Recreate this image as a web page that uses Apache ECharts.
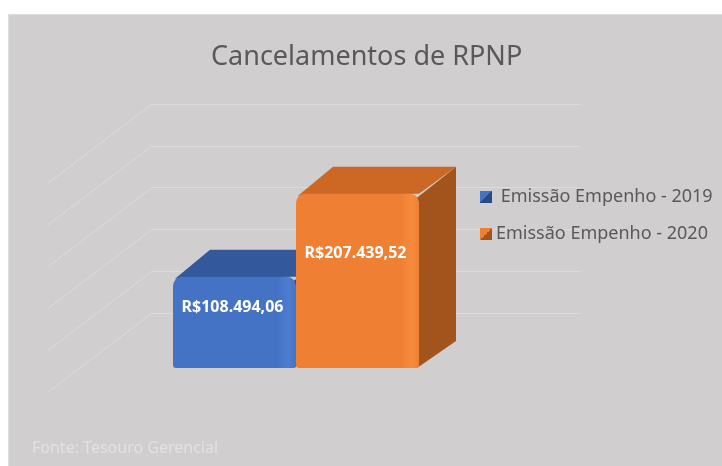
<!DOCTYPE html>
<html>
<head>
<meta charset="utf-8">
<script src="https://cdn.jsdelivr.net/npm/echarts@6/dist/echarts.min.js"></script>
<style>
    body { margin: 0; background: #fff; }
    #wrap { position: relative; width: 722px; height: 466px; background: #fff; }
    #panel {
        position: absolute; left: 8px; top: 14px; width: 714px; height: 452px;
        background: #d0cecf; border-left: 1px solid #dedede; border-top: 1px solid #dedede;
    }
    #chart { position: absolute; left: 0; top: 0; width: 722px; height: 466px; }
</style>
</head>
<body>
<div id="wrap">
    <div id="panel"></div>
    <div id="chart"></div>
</div>
<script>
// dados
const categories = ["Cancelamentos"];
const seriesNames = [" Emissão Empenho - 2019", "Emissão Empenho - 2020"];
const seriesValues = [108494.06, 207439.52];
const yTicks = [0, 50000, 100000, 150000, 200000, 250000];

// cores das faces (frente, topo, lateral)
const faceColors = [
    { front: "#4472c4", light: "#4e7dcf", top: "#33589b", side: "#284a85" },
    { front: "#ef7f32", light: "#f68c3e", top: "#cd6724", side: "#a3531c" },
];

const depth = [37, -27]; // profundidade das barras
const wallDepth = [-105, 80]; // linhas diagonais da parede

function brl(v) {
    const parts = v.toFixed(2).split(".");
    return "R$" + parts[0].replace(/\B(?=(\d{3})+(?!\d))/g, ".") + "," + parts[1];
}

function renderBar(idx) {
    return function (params, api) {
        const val = api.value(1);
        const base = api.coord([0, 0]);
        const top = api.coord([0, val]);
        const catW = api.size([1, 0])[0];
        const w = catW / seriesNames.length;
        const xl = base[0] - catW / 2 + idx * w;
        const xr = xl + w;
        const yb = base[1];
        const yt = top[1];
        const c = faceColors[idx];
        return {
            type: "group",
            children: [
                {
                    type: "polygon",
                    shape: { points: [[xl + 2, yt + 2], [xl + depth[0], yt + depth[1]], [xr + depth[0], yt + depth[1]], [xr, yt]] },
                    style: { fill: c.top },
                },
                {
                    type: "polygon",
                    shape: { points: [[xr - 2, yt + 4], [xr + depth[0], yt + depth[1]], [xr + depth[0], yb + depth[1]], [xr - 2, yb]] },
                    style: { fill: c.side },
                },
                {
                    type: "rect",
                    shape: { x: xl, y: yt, width: w, height: yb - yt, r: [9, 9, 3, 3] },
                    style: {
                        fill: new echarts.graphic.LinearGradient(0, 0, 1, 0, [
                            { offset: 0, color: c.front },
                            { offset: 0.85, color: c.front },
                            { offset: 0.94, color: c.light },
                            { offset: 1, color: c.front },
                        ]),
                    },
                },
                {
                    type: "text",
                    style: {
                        x: xl + w / 2 - 2,
                        y: yt + (yb - yt) * 0.34,
                        text: brl(val),
                        fill: "#fff",
                        font: "bold 16px 'Noto Sans', sans-serif",
                        align: "center",
                        verticalAlign: "middle",
                    },
                },
            ],
        };
    };
}

function renderDiagonal(params, api) {
    const y = api.coord([0, api.value(1)])[1];
    const x = params.coordSys.x;
    return {
        type: "line",
        shape: { x1: x, y1: y, x2: x + wallDepth[0], y2: y + wallDepth[1] },
        style: { stroke: "#dddbdc", lineWidth: 1 },
    };
}

const chart = echarts.init(document.getElementById("chart"));

const barSeries = seriesNames.map(function (name, i) {
    const c = faceColors[i];
    return {
        name: name,
        type: "custom",
        xAxisIndex: 1,
        yAxisIndex: 1,
        z: 3,
        itemStyle: {
            color: new echarts.graphic.LinearGradient(0, 0, 1, 1, [
                { offset: 0, color: c.front },
                { offset: 0.5, color: c.front },
                { offset: 0.5, color: c.side },
                { offset: 1, color: c.side },
            ]),
        },
        renderItem: renderBar(i),
        data: [[0, seriesValues[i]]],
    };
});

const option = {
    animation: false,
    title: [
        {
            text: "Cancelamentos de RPNP",
            left: 211,
            top: 44,
            padding: 0,
            textStyle: { fontFamily: "Noto Sans", fontSize: 27, fontWeight: "normal", color: "#595959" },
        },
        {
            text: "Fonte: Tesouro Gerencial",
            left: 32,
            top: 440,
            padding: 0,
            textStyle: { fontFamily: "Noto Sans", fontSize: 16, fontWeight: "normal", color: "#e2e2e2" },
        },
    ],
    legend: {
        data: seriesNames,
        orient: "vertical",
        left: 480,
        top: 188,
        padding: 0,
        icon: "rect",
        itemWidth: 12,
        itemHeight: 12,
        itemGap: 19,
        textStyle: { fontFamily: "Noto Sans", fontSize: 18, color: "#595959", padding: [0, 0, 0, -1] },
    },
    grid: [
        { left: 152, right: 142, top: 104, bottom: 153 },
        { left: 173, right: 303, top: 158, bottom: 98 },
    ],
    xAxis: [
        { type: "category", gridIndex: 0, data: categories, show: false },
        { type: "category", gridIndex: 1, data: categories, show: false },
    ],
    yAxis: [
        {
            type: "value",
            gridIndex: 0,
            min: 0,
            max: 250000,
            interval: 50000,
            axisLine: { show: false },
            axisTick: { show: false },
            axisLabel: { show: false },
            splitLine: { lineStyle: { color: "#dddbdc", width: 1 } },
        },
        { type: "value", gridIndex: 1, min: 0, max: 250000, show: false },
    ],
    series: [
        {
            type: "custom",
            xAxisIndex: 0,
            yAxisIndex: 0,
            z: 1,
            silent: true,
            renderItem: renderDiagonal,
            data: yTicks.map(function (v) { return [0, v]; }),
        },
    ].concat(barSeries),
};

chart.setOption(option);
</script>
</body>
</html>
